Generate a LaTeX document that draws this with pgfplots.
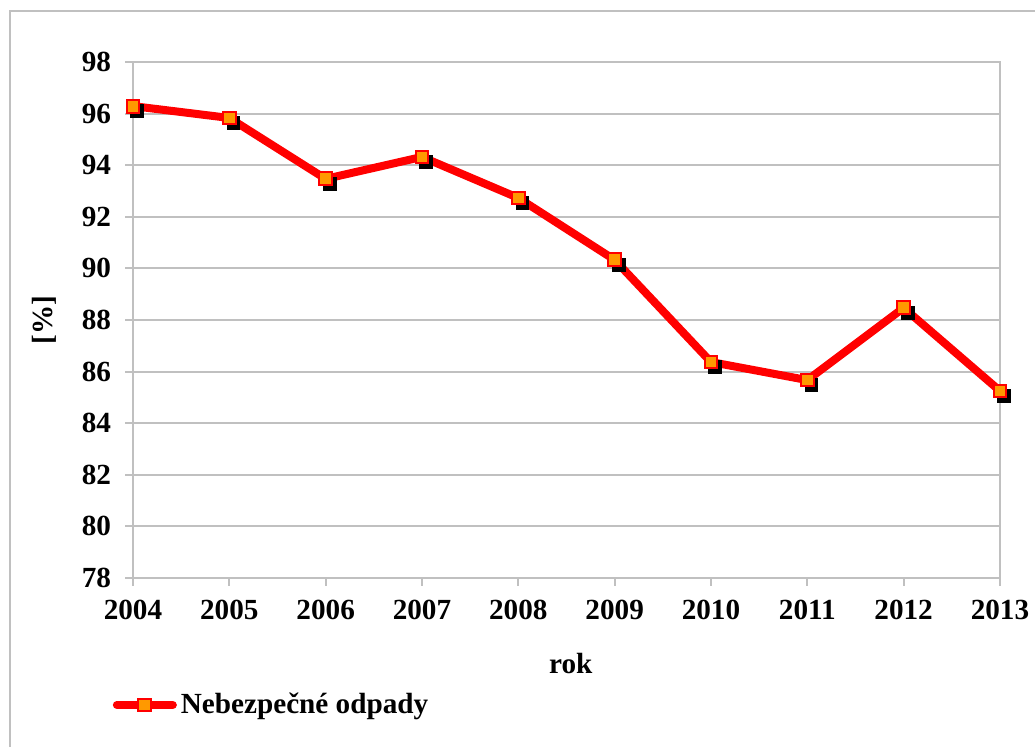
\documentclass[border=0pt]{standalone}
\usepackage{fontspec}
\setmainfont{Liberation Serif}
\usepackage{pgfplots}
\pgfplotsset{compat=1.18}
\definecolor{lineRed}{HTML}{FF0000}
\definecolor{markOrange}{HTML}{FF9900}
\definecolor{gridGray}{HTML}{C0C0C0}
\newcommand\lbl{\fontsize{14.6}{17}\selectfont\bfseries}

\begin{document}
\begin{tikzpicture}
\begin{axis}[
  at={(66.5pt,84.5pt)}, anchor=south west,
  scale only axis,
  width=433.5pt, height=258pt,
  xmin=2004, xmax=2013, ymin=78, ymax=98,
  xtick={2004,2005,...,2013},
  ytick={78,80,...,98},
  /pgf/number format/1000 sep={},
  /pgf/number format/assume math mode=true,
  ticklabel style={font=\lbl},
  xticklabel style={yshift=-3.5pt},
  yticklabel style={xshift=-3.5pt},
  tick pos=left, tick align=outside,
  major tick length=4pt,
  tick style={gridGray, line width=1pt},
  axis line style={gridGray, line width=1pt},
  ymajorgrids, grid style={gridGray, line width=1pt},
  xlabel={rok}, ylabel={[\%]},
  label style={font=\lbl},
  xlabel style={at={(axis description cs:0.505,-0.165)}, anchor=center},
  ylabel style={at={(axis description cs:-0.102,0.5)}, anchor=center},
  legend style={at={(axis description cs:-0.026,-0.246)}, anchor=west,
    draw=none, fill=none, font=\lbl, inner sep=1pt},
  legend cell align=left,
  legend image code/.code={%
    \draw[mark repeat=2, mark phase=2, line cap=round, #1]
      plot coordinates {(0pt,0pt) (14pt,0pt) (28pt,0pt)};},
]
  % shadow of the markers
  \addplot[only marks, mark=square*, mark size=3.2pt, black,
    mark options={xshift=2pt, yshift=-2.5pt}, forget plot]
    coordinates {
      (2004,96.29)(2005,95.83)(2006,93.47)(2007,94.32)(2008,92.73)
      (2009,90.33)(2010,86.37)(2011,85.67)(2012,88.47)(2013,85.25)
    };
  \addplot[lineRed, line width=4pt, mark=square*, mark size=3.2pt,
    mark options={fill=markOrange, draw=lineRed, line width=1pt}]
    coordinates {
      (2004,96.29)(2005,95.83)(2006,93.47)(2007,94.32)(2008,92.73)
      (2009,90.33)(2010,86.37)(2011,85.67)(2012,88.47)(2013,85.25)
    };
  \addlegendentry{Nebezpečné odpady}
\end{axis}
\draw[gridGray, line width=1pt] (4.75pt,0pt) -- (4.75pt,368pt) -- (517.5pt,368pt);
\pgfresetboundingbox
\useasboundingbox (0pt,0pt) rectangle (517.5pt,373.5pt);
\end{tikzpicture}
\end{document}
